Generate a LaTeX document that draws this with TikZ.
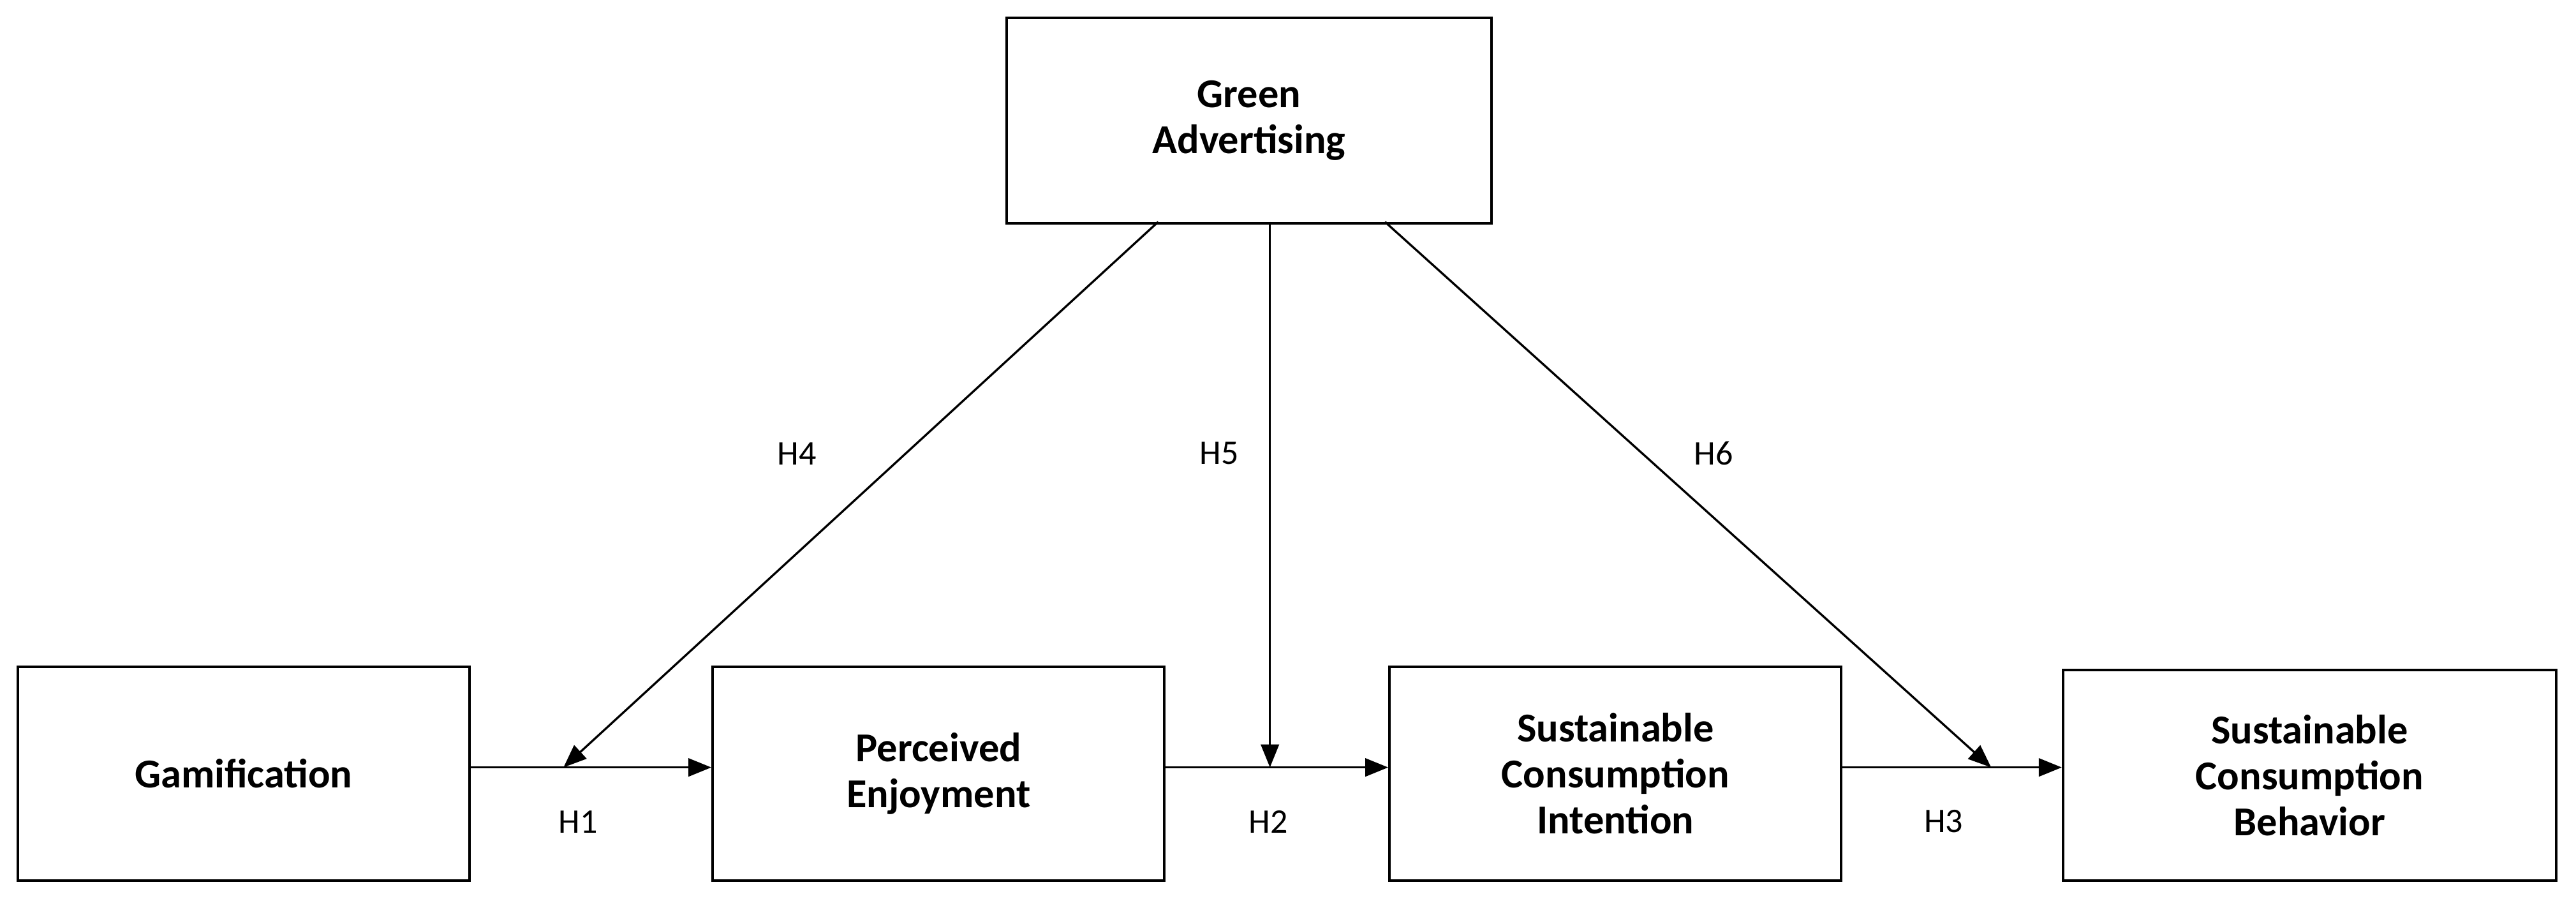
\documentclass[tikz,border=0pt]{standalone}
\usepackage{fontspec}
\setmainfont{Carlito}
\usetikzlibrary{arrows.meta}
\begin{document}
\begin{tikzpicture}[x=1pt,y=-1pt,
  box/.style={draw,line width=1.6pt,minimum width=275pt,minimum height=130pt,align=center,font=\fontsize{25}{28}\selectfont\bfseries,anchor=north west},
  arr/.style={line width=1.3pt,-{Triangle[length=14pt,width=11pt]}},
  lab/.style={font=\fontsize{21}{24}\selectfont}]
\useasboundingbox (0,0) rectangle (1568,548);
\node[box,minimum width=295pt,minimum height=125pt] (ga) at (612,10) {Green\\Advertising};
\node[box] (gam) at (10,405) {Gamification};
\node[box] (pe) at (433,405) {Perceived\\Enjoyment};
\node[box] (sci) at (845,405) {Sustainable\\Consumption\\Intention};
\node[box,minimum width=300pt,minimum height=128pt] (scb) at (1255,407) {Sustainable\\Consumption\\Behavior};
\coordinate (a1) at (343,467);
\coordinate (a2) at (773,467);
\coordinate (a3) at (1212,467);
\coordinate (g1) at (705,135);
\coordinate (g2) at (773,135);
\coordinate (g3) at (843,135);
\draw[arr] (gam.east|-a1) -- (pe.west|-a1);
\draw[arr] (pe.east|-a2) -- (sci.west|-a2);
\draw[arr] (sci.east|-a3) -- (scb.west|-a3);
\draw[arr] (g1) -- (a1);
\draw[arr] (g2) -- (a2);
\draw[arr] (g3) -- (a3);
\node[lab] at (485,276) {H4};
\node[lab] at (742,276) {H5};
\node[lab] at (1043,276) {H6};
\node[lab] at (352,500) {H1};
\node[lab] at (772,500) {H2};
\node[lab] at (1183,500) {H3};
\end{tikzpicture}
\end{document}
